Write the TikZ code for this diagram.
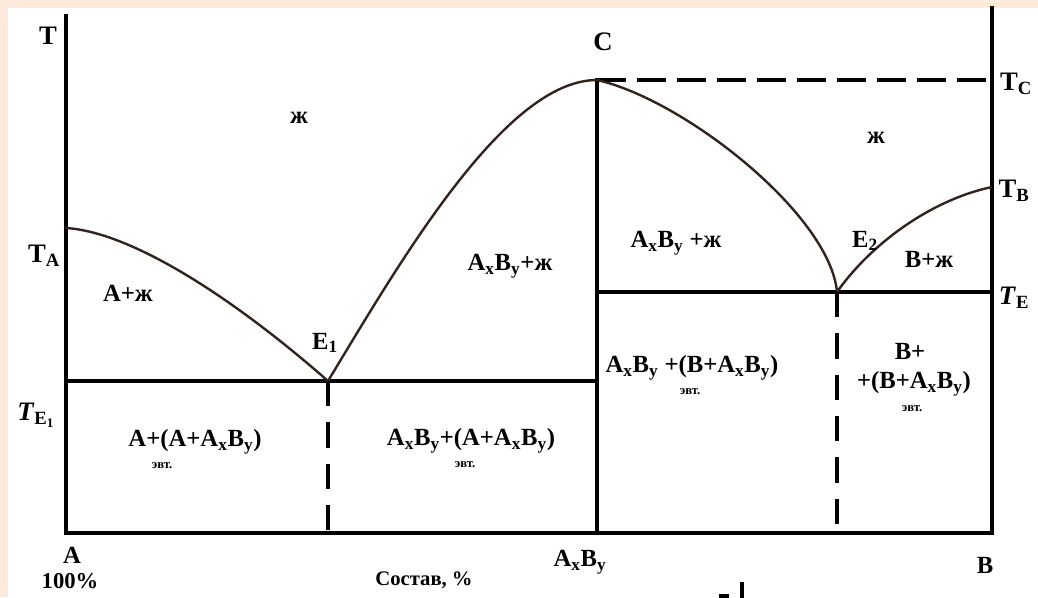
\documentclass[tikz,border=0pt]{standalone}
\usepackage{fontspec}
\setmainfont{Liberation Serif}
\usetikzlibrary{positioning}
\definecolor{peach}{RGB}{253,234,218}
\definecolor{ink}{RGB}{50,35,30}
\newcommand{\AxBy}{A\textsubscript{x}B\textsubscript{y}}

\begin{document}
\begin{tikzpicture}[x=0.75pt, y=-0.75pt,
  axis/.style={line width=3pt, line cap=rect},
  eut/.style={line width=2.6pt},
  liq/.style={line width=1.8pt, ink},
  dashH/.style={line width=3pt, dash pattern=on 22pt off 8pt},
  dashV/.style={line width=3pt, dash pattern=on 19pt off 12pt},
  lbl/.style={font=\bfseries\fontsize{18.5}{20}\selectfont, inner sep=1pt},
  tlbl/.style={font=\bfseries\fontsize{20}{21}\selectfont, inner sep=1pt},
  small/.style={font=\bfseries\fontsize{9.5}{11}\selectfont, inner sep=1pt}
]
% background
\useasboundingbox (0,0) rectangle (1038,597);
\fill[peach] (0,0) rectangle (1038,597);
\fill[white] (8,8) rectangle (1038,597);
% key points
\coordinate (top) at (66,16);
\coordinate (O) at (66,533);
\coordinate (Bt) at (992,8);
\coordinate (Bb) at (992,533);
\coordinate (TA) at (66,228);
\coordinate (TE1) at (66,381);
\coordinate (E1) at (328,381);
\coordinate (E1b) at (328,533);
\coordinate (C) at (597,80);
\coordinate (Cm) at (597,381);
\coordinate (Ct) at (597,292);
\coordinate (Cb) at (597,533);
\coordinate (TC) at (992,80);
\coordinate (TB) at (992,187);
\coordinate (E2) at (837,292);
\coordinate (E2b) at (837,533);
\coordinate (TE) at (992,292);
% frame and solid lines
\draw[axis] (top) -- (O) -- (Bb) -- (Bt);
\draw[axis] (C) -- (Cb);
\draw[eut] (TE1) -- (Cm);
\draw[eut] (Ct) -- (TE);
% dashed lines
\draw[dashH] (C) -- (TC);
\draw[dashV] (E1) -- (E1b);
\draw[dashV] (E2) -- (E2b);
% liquidus
\draw[liq] (TA) .. controls (130,232) and (230,295) .. (E1);
\draw[liq] (E1) .. controls (400,262) and (505,80) .. (C);
\draw[liq] (C) .. controls (685,100) and (830,215) .. (E2);
\draw[liq] (E2) .. controls (870,245) and (930,200) .. (TB);
% axis labels
\node[tlbl] (lT) at (48,36) {T};
\node[tlbl] (lTA) at (44,256) {T\textsubscript{A}};
\node[tlbl] (lTE1) at (36,415) {\textit{T}\textsubscript{E\textsubscript{1}}};
\node[tlbl] (lC) at (603,42) {C};
\node[tlbl] (lTC) at (1016,84) {T\textsubscript{C}};
\node[tlbl] (lTB) at (1014,191) {T\textsubscript{B}};
\node[tlbl] (lTE) at (1014,298) {\textit{T}\textsubscript{E}};
\node[lbl] (lA) at (72,555) {A};
\node[lbl, font=\bfseries\fontsize{17}{18}\selectfont] (l100) at (70,581) {100\%};
\node[lbl, font=\bfseries\fontsize{15.5}{17}\selectfont] (lsost) at (424,580) {Состав, \%};
\node[lbl] (lAB) at (580,562) {\AxBy};
\node[lbl] (lB) at (985,565) {B};
% region labels
\node[lbl] (liq1) at (299,118) {ж};
\node[lbl] (liq2) at (876,138) {ж};
\node[lbl] (r1) at (128,293) {A+ж};
\node[lbl] (lE1) at (325,343) {E\textsubscript{1}};
\node[lbl] (r2) at (510,266) {\AxBy+ж};
\node[lbl] (r3) at (676,243) {\AxBy\ +ж};
\node[lbl] (lE2) at (865,241) {E\textsubscript{2}};
\node[lbl] (r4) at (929,259) {B+ж};
\node[lbl] (r5) at (195,442) {A+(A+\AxBy)};
\node[small] (r5e) at (162,466) {эвт.};
\node[lbl] (r6) at (471,441) {\AxBy+(A+\AxBy)};
\node[small] (r6e) at (465,465) {эвт.};
\node[lbl] (r7) at (692,368) {\AxBy\ +(B+\AxBy)};
\node[small] (r7e) at (690,392) {эвт.};
\node[lbl] (r8a) at (910,351) {B+};
\node[lbl] (r8) at (914,384) {+(B+\AxBy)};
\node[small] (r8e) at (912,409) {эвт.};
% cut-off fragment at bottom edge
\coordinate (f1) at (742,582);
\coordinate (f2) at (742,600);
\coordinate (f3) at (719,596);
\coordinate (f4) at (729,596);
\draw[line width=3pt] (f1) -- (f2);
\draw[line width=2.5pt] (f3) -- (f4);
\end{tikzpicture}
\end{document}
